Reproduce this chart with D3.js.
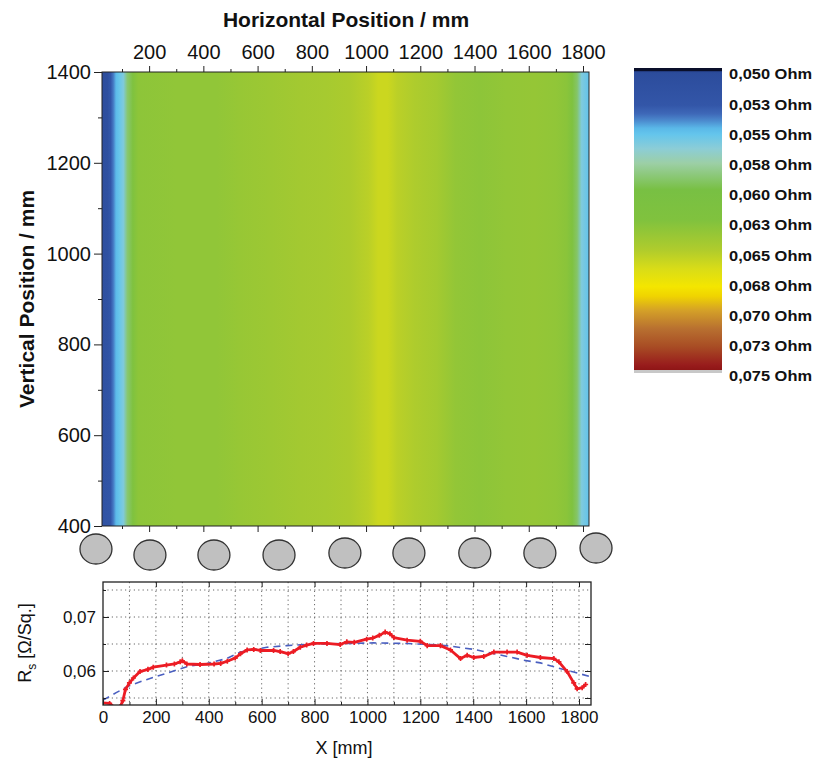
<!DOCTYPE html>
<html>
<head>
<meta charset="utf-8">
<script src="https://cdn.jsdelivr.net/npm/d3@7"></script>
<style>
  body { margin: 0; background: #fff; }
  svg { display: block; }
  text { font-family: "Liberation Sans", Arial, sans-serif; fill: #111; }
</style>
</head>
<body>
<div id="chart"></div>
<script>
var W = 816, H = 764;

// colour bar: value -> colour stops
var cbValues = [0.0500, 0.0503, 0.0530, 0.0537, 0.0543, 0.0549, 0.0554, 0.0566, 0.0578, 0.0600, 0.0625, 0.0650, 0.0665, 0.0680, 0.0688, 0.0700, 0.0715, 0.0730, 0.0745, 0.0750];
var cbColors = ["#0d1640", "#2c4c9c", "#3356a8", "#3e68b8", "#4c8ccf", "#5ab8e8", "#64c5ec", "#8ccdd6", "#9ccfa6", "#78c043", "#80c23e", "#b0cc2c", "#d8dc18", "#f4e600", "#f0d400", "#d4a028", "#b87030", "#a84c24", "#981c1c", "#8c1414"];
var cbTicks = [0.0500, 0.0525, 0.0550, 0.0575, 0.0600, 0.0625, 0.0650, 0.0675, 0.0700, 0.0725, 0.0750];
var cbLabels = ["0,050 Ohm", "0,053 Ohm", "0,055 Ohm", "0,058 Ohm", "0,060 Ohm", "0,063 Ohm", "0,065 Ohm", "0,068 Ohm", "0,070 Ohm", "0,073 Ohm", "0,075 Ohm"];

// sheet resistance map, averaged profile across horizontal position (mm -> Ohm)
var mapX = [26, 45, 58, 68, 78, 90, 105, 120, 140, 160, 300, 450, 530, 650, 760, 850, 940, 1010, 1045, 1080, 1115, 1180, 1260, 1330, 1420, 1520, 1620, 1700, 1740, 1760, 1778, 1795, 1822];
var mapVal = [0.0522, 0.0524, 0.0528, 0.0540, 0.0550, 0.0555, 0.0562, 0.0590, 0.0622, 0.0632, 0.0634, 0.0634, 0.0637, 0.0640, 0.0643, 0.0645, 0.0648, 0.0654, 0.0660, 0.0660, 0.0654, 0.0649, 0.0644, 0.0635, 0.0632, 0.0635, 0.0636, 0.0634, 0.0630, 0.0622, 0.0592, 0.0562, 0.0553];

// rollers under the sheet (mm) and their drop below the map (px)
var rollerX = [4, 203, 439, 679, 922, 1158, 1401, 1641, 1848];
var rollerDrop = [23, 29, 29, 29, 27, 27, 27, 27, 22];

// line profile Rs(X)
var rsX = [0, 25, 45, 65, 75, 85, 100, 115, 140, 170, 190, 240, 270, 292, 300, 317, 367, 420, 445, 470, 500, 520, 545, 570, 595, 645, 670, 700, 720, 746, 770, 796, 847, 897, 922, 950, 997, 1020, 1045, 1067, 1085, 1100, 1150, 1200, 1226, 1276, 1314, 1352, 1377, 1402, 1440, 1478, 1528, 1566, 1604, 1654, 1705, 1724, 1755, 1780, 1793, 1812, 1825];
var rsVal = [0.0541, 0.0540, 0.0532, 0.0534, 0.0545, 0.0566, 0.0578, 0.0587, 0.0599, 0.0603, 0.0607, 0.0611, 0.0613, 0.0617, 0.0619, 0.0613, 0.0612, 0.0613, 0.0614, 0.0618, 0.0624, 0.0632, 0.0639, 0.0640, 0.0638, 0.0638, 0.0636, 0.0632, 0.0636, 0.0644, 0.0648, 0.0651, 0.0651, 0.0649, 0.0654, 0.0653, 0.0659, 0.0661, 0.0666, 0.0672, 0.0669, 0.0662, 0.0657, 0.0655, 0.0647, 0.0647, 0.0639, 0.0623, 0.0629, 0.0625, 0.0627, 0.0635, 0.0635, 0.0635, 0.0629, 0.0625, 0.0623, 0.0617, 0.0599, 0.0578, 0.0567, 0.0569, 0.0575];

// fitted profile (dashed)
var fitX = [0, 50, 101, 164, 241, 317, 393, 468, 519, 620, 695, 796, 922, 1023, 1150, 1276, 1314, 1402, 1528, 1591, 1654, 1718, 1780, 1840];
var fitVal = [0.0546, 0.0560, 0.0573, 0.0584, 0.0596, 0.0608, 0.0614, 0.0623, 0.0635, 0.0644, 0.0647, 0.0650, 0.0651, 0.0652, 0.0651, 0.0648, 0.0646, 0.0640, 0.0627, 0.0620, 0.0615, 0.0606, 0.0598, 0.0590];

var svg = d3.select("#chart").append("svg").attr("width", W).attr("height", H);
var defs = svg.append("defs");

var colour = d3.scaleLinear().domain(cbValues).range(cbColors).interpolate(d3.interpolateRgb).clamp(true);

/*
 * Map
 */
var map = {left: 102, right: 589, top: 72, bottom: 526};
var xTop = d3.scaleLinear().domain([100, 1800]).range([122, 583]);
var yMap = d3.scaleLinear().domain([400, 1400]).range([map.bottom, map.top]);

var grad = defs.append("linearGradient").attr("id", "mapGrad")
  .attr("gradientUnits", "userSpaceOnUse")
  .attr("x1", map.left).attr("x2", map.right).attr("y1", 0).attr("y2", 0);
mapX.forEach(function(d, i){
  grad.append("stop")
    .attr("offset", (xTop(d) - map.left) / (map.right - map.left))
    .attr("stop-color", colour(mapVal[i]));
});

svg.append("rect")
  .attr("x", map.left).attr("y", map.top)
  .attr("width", map.right - map.left).attr("height", map.bottom - map.top)
  .attr("fill", "url(#mapGrad)");

// slightly darker left band towards the top
var edge = defs.append("linearGradient").attr("id", "edgeGrad").attr("x1", 0).attr("x2", 0).attr("y1", 0).attr("y2", 1);
edge.append("stop").attr("offset", 0).attr("stop-color", "#2a4896").attr("stop-opacity", 0.45);
edge.append("stop").attr("offset", 1).attr("stop-color", "#2a4896").attr("stop-opacity", 0);
svg.append("rect")
  .attr("x", map.left).attr("y", map.top)
  .attr("width", xTop(50) - map.left).attr("height", map.bottom - map.top)
  .attr("fill", "url(#edgeGrad)");

svg.append("rect")
  .attr("x", map.left).attr("y", map.top)
  .attr("width", map.right - map.left).attr("height", map.bottom - map.top)
  .attr("fill", "none").attr("stroke", "#222").attr("stroke-width", 1);

var majorX = d3.range(200, 1801, 200);
var minorX = d3.range(100, 1800, 200);

var topAx = svg.append("g").attr("transform", "translate(0," + map.top + ")")
  .call(d3.axisTop(xTop).tickValues(majorX).tickSize(6).tickPadding(7).tickFormat(d3.format("d")));
svg.append("g").attr("transform", "translate(0," + map.top + ")")
  .call(d3.axisTop(xTop).tickValues(minorX).tickSize(3).tickFormat(""));
svg.append("g").attr("transform", "translate(0," + map.bottom + ")")
  .call(d3.axisBottom(xTop).tickValues(majorX).tickSize(6).tickFormat(""));
svg.append("g").attr("transform", "translate(0," + map.bottom + ")")
  .call(d3.axisBottom(xTop).tickValues(minorX).tickSize(3).tickFormat(""));

var leftAx = svg.append("g").attr("transform", "translate(" + map.left + ",0)")
  .call(d3.axisLeft(yMap).tickValues(d3.range(400, 1401, 200)).tickSize(8).tickPadding(3).tickFormat(d3.format("d")));
svg.append("g").attr("transform", "translate(" + map.left + ",0)")
  .call(d3.axisLeft(yMap).tickValues(d3.range(500, 1400, 200)).tickSize(4).tickFormat(""));

svg.selectAll(".domain").remove();
svg.selectAll(".tick line").attr("stroke", "#222");
topAx.selectAll("text").attr("font-size", 20).attr("fill", "#222");
leftAx.selectAll("text").attr("font-size", 20).attr("fill", "#222");

svg.append("text")
  .attr("x", 346).attr("y", 27)
  .attr("text-anchor", "middle")
  .attr("font-size", 21).attr("font-weight", "bold")
  .text("Horizontal Position / mm");

svg.append("text")
  .attr("transform", "translate(34," + (map.top + map.bottom) / 2 + ") rotate(-90)")
  .attr("text-anchor", "middle")
  .attr("font-size", 21).attr("font-weight", "bold")
  .text("Vertical Position / mm");

/*
 * Rollers
 */
svg.selectAll(".roller").data(rollerX).enter().append("ellipse")
  .attr("class", "roller")
  .attr("cx", function(d){ return xTop(d); })
  .attr("cy", function(d, i){ return map.bottom + rollerDrop[i]; })
  .attr("rx", 16).attr("ry", 15)
  .attr("fill", "#c0c0c0").attr("stroke", "#333").attr("stroke-width", 1.3);

/*
 * Colour bar
 */
var cb = {x: 634, w: 88, top: 69, bottom: 371};
var cbY = d3.scaleLinear().domain([0.050, 0.075]).range([cb.top, cb.bottom]);
var cbGrad = defs.append("linearGradient").attr("id", "cbGrad").attr("x1", 0).attr("x2", 0).attr("y1", 0).attr("y2", 1);
cbValues.forEach(function(v, i){
  cbGrad.append("stop").attr("offset", (cbY(v) - cb.top) / (cb.bottom - cb.top)).attr("stop-color", cbColors[i]);
});
svg.append("rect").attr("x", cb.x).attr("y", cb.top).attr("width", cb.w).attr("height", cb.bottom - cb.top)
  .attr("fill", "url(#cbGrad)");
svg.append("rect").attr("x", cb.x).attr("y", cb.top - 1).attr("width", cb.w).attr("height", 3).attr("fill", "#0a0f2a");
svg.append("rect").attr("x", cb.x).attr("y", cb.bottom - 1).attr("width", cb.w).attr("height", 3).attr("fill", "#c8c8c8");

svg.selectAll(".cblab").data(cbTicks).enter().append("text")
  .attr("class", "cblab")
  .attr("x", 729)
  .attr("y", function(d){ return cbY(d) + 5; })
  .attr("dy", "0.35em")
  .attr("font-size", 15.5).attr("font-weight", "bold")
  .attr("textLength", 83).attr("lengthAdjust", "spacingAndGlyphs")
  .text(function(d, i){ return cbLabels[i]; });

/*
 * Line profile
 */
var pl = {left: 103, right: 591, top: 582, bottom: 705};
var xB = d3.scaleLinear().domain([0, 1800]).range([103, 579]);
var yB = d3.scaleLinear().domain([0.06, 0.07]).range([671, 617]);

defs.append("clipPath").attr("id", "plClip").append("rect")
  .attr("x", pl.left).attr("y", pl.top).attr("width", pl.right - pl.left).attr("height", pl.bottom - pl.top);

var grid = svg.append("g").attr("stroke", "#666").attr("stroke-width", 1).attr("stroke-dasharray", "1.2,3.2");
grid.selectAll(".gx").data(d3.range(100, 1801, 100)).enter().append("line")
  .attr("x1", function(d){ return xB(d); }).attr("x2", function(d){ return xB(d); })
  .attr("y1", pl.top).attr("y2", pl.bottom);
grid.selectAll(".gy").data([0.055, 0.060, 0.065, 0.070, 0.075]).enter().append("line")
  .attr("x1", pl.left).attr("x2", pl.right)
  .attr("y1", function(d){ return yB(d); }).attr("y2", function(d){ return yB(d); });

var line = d3.line().x(function(d){ return xB(d[0]); }).y(function(d){ return yB(d[1]); });

svg.append("path")
  .datum(d3.zip(fitX, fitVal))
  .attr("clip-path", "url(#plClip)")
  .attr("d", line)
  .attr("fill", "none").attr("stroke", "#4a5fc0").attr("stroke-width", 1.6)
  .attr("stroke-dasharray", "7,5");

var rsG = svg.append("g").attr("clip-path", "url(#plClip)");
rsG.append("path")
  .datum(d3.zip(rsX, rsVal))
  .attr("d", line)
  .attr("fill", "none").attr("stroke", "#ec1c24").attr("stroke-width", 2.8)
  .attr("stroke-linejoin", "round");
rsG.selectAll(".mk").data(d3.zip(rsX, rsVal)).enter().append("path")
  .attr("class", "mk")
  .attr("d", d3.symbol(d3.symbolCross, 14))
  .attr("transform", function(d){ return "translate(" + xB(d[0]) + "," + yB(d[1]) + ")"; })
  .attr("fill", "#ec1c24");

svg.append("rect")
  .attr("x", pl.left).attr("y", pl.top).attr("width", pl.right - pl.left).attr("height", pl.bottom - pl.top)
  .attr("fill", "none").attr("stroke", "#222").attr("stroke-width", 1.3);

var bAx = svg.append("g").attr("transform", "translate(0," + pl.bottom + ")")
  .call(d3.axisBottom(xB).tickValues(d3.range(0, 1801, 200)).tickSizeInner(-6).tickSizeOuter(0).tickPadding(6).tickFormat(d3.format("d")));
svg.append("g").attr("transform", "translate(0," + pl.bottom + ")")
  .call(d3.axisBottom(xB).tickValues(d3.range(100, 1800, 200)).tickSizeInner(-3).tickSizeOuter(0).tickFormat(""));
svg.append("g").attr("transform", "translate(0," + pl.top + ")")
  .call(d3.axisTop(xB).tickValues(d3.range(200, 1801, 200)).tickSizeInner(-5).tickSizeOuter(0).tickFormat(""));

var comma = function(d){ return d3.format(".2f")(d).replace(".", ","); };
var lAx = svg.append("g").attr("transform", "translate(" + pl.left + ",0)")
  .call(d3.axisLeft(yB).tickValues([0.06, 0.07]).tickSizeInner(-6).tickSizeOuter(0).tickPadding(7).tickFormat(comma));
svg.append("g").attr("transform", "translate(" + pl.left + ",0)")
  .call(d3.axisLeft(yB).tickValues([0.055, 0.065, 0.075]).tickSizeInner(-3).tickSizeOuter(0).tickFormat(""));
svg.append("g").attr("transform", "translate(" + pl.right + ",0)")
  .call(d3.axisRight(yB).tickValues([0.055, 0.06, 0.065, 0.07]).tickSizeInner(-6).tickSizeOuter(0).tickFormat(""));

svg.selectAll(".domain").remove();
svg.selectAll(".tick line").attr("stroke", "#222");
bAx.selectAll("text").attr("font-size", 17).attr("fill", "#222");
lAx.selectAll("text").attr("font-size", 17).attr("fill", "#222");

svg.append("text")
  .attr("x", 344).attr("y", 754)
  .attr("text-anchor", "middle")
  .attr("font-size", 18).attr("fill", "#222")
  .text("X [mm]");

var yl = svg.append("text")
  .attr("transform", "translate(31,643) rotate(-90)")
  .attr("text-anchor", "middle")
  .attr("font-size", 18).attr("fill", "#222");
yl.append("tspan").text("R");
yl.append("tspan").attr("font-size", 12).attr("dy", 5).text("s");
yl.append("tspan").attr("dy", -5).text("  [\u03A9/Sq.]");
</script>
</body>
</html>
